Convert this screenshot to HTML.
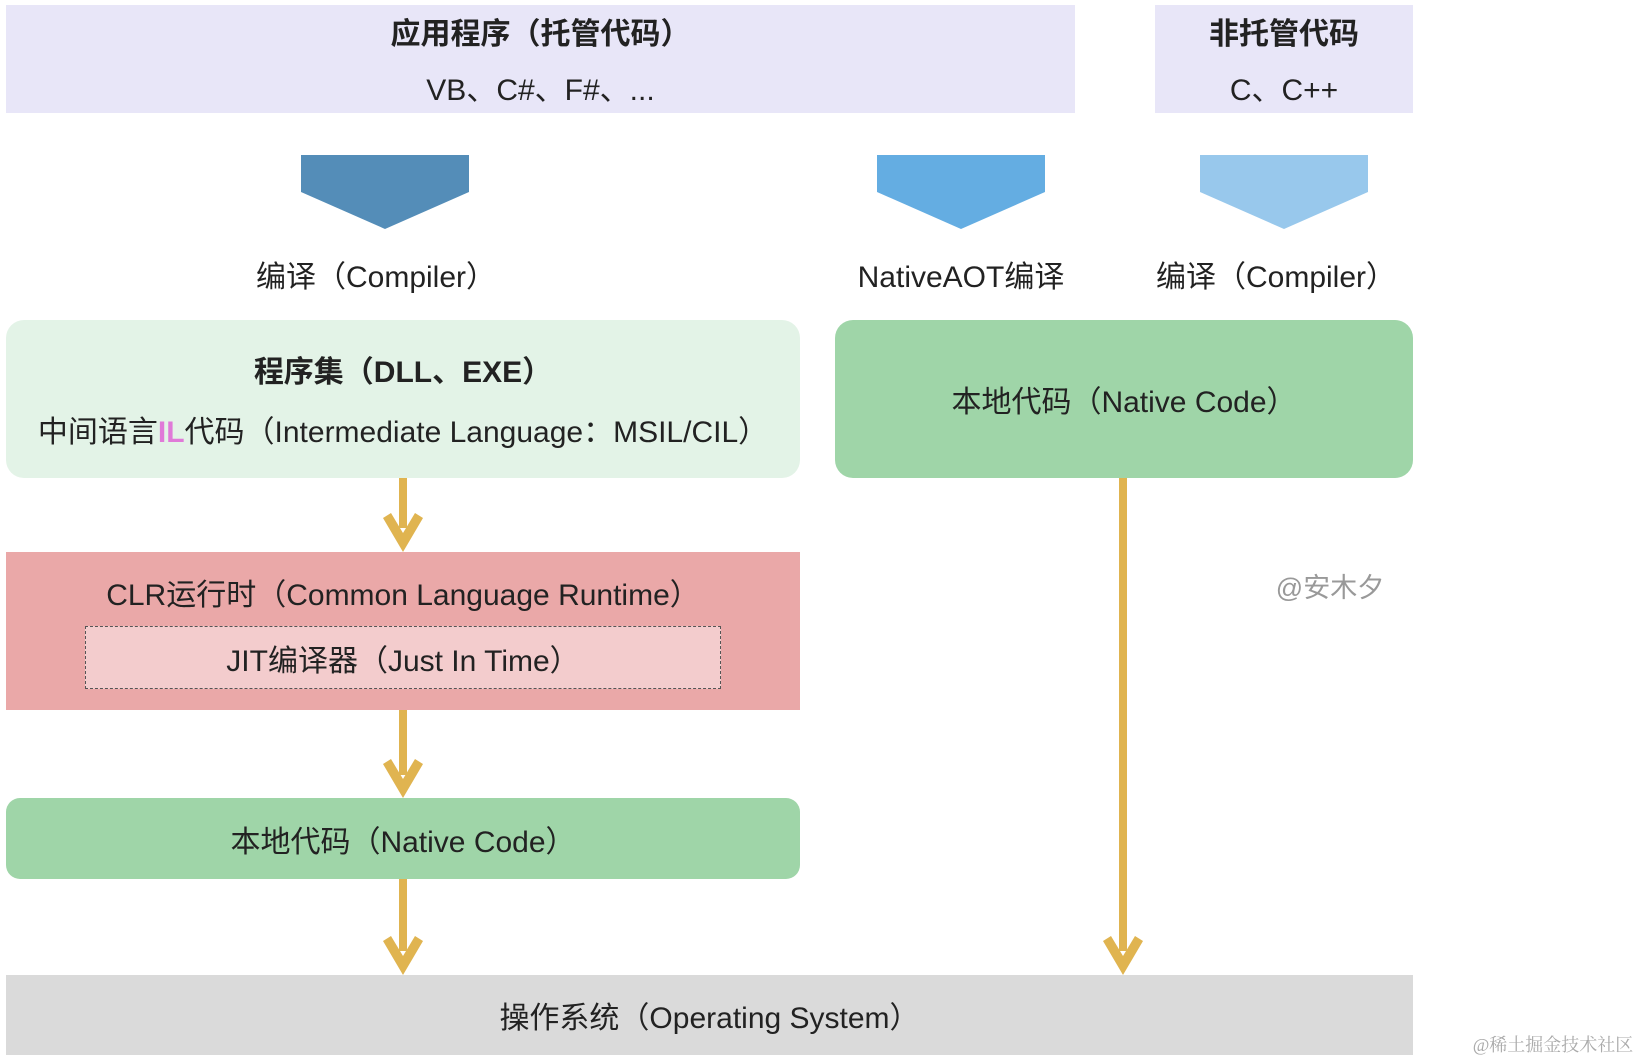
<!DOCTYPE html>
<html><head><meta charset="utf-8"><style>
body{margin:0;width:1640px;height:1060px;background:#fff;position:relative;overflow:hidden;font-family:"Liberation Sans","Noto Sans CJK SC",sans-serif;color:#222}
.b{position:absolute;display:flex;flex-direction:column;align-items:center;justify-content:center;text-align:center;font-size:30px;white-space:nowrap}
.t{font-weight:bold}
.l{position:absolute;font-size:30px;white-space:nowrap;transform:translateX(-50%)}
</style></head><body>
<div class="b" style="left:6px;top:5px;width:1069px;height:108px;background:#e8e6f8">
 <div class="t" style="margin-bottom:12px">应用程序（托管代码）</div><div>VB、C#、F#、...</div></div>
<div class="b" style="left:1155px;top:5px;width:258px;height:108px;background:#e8e6f8">
 <div class="t" style="margin-bottom:12px">非托管代码</div><div>C、C++</div></div>
<svg style="position:absolute;left:0;top:0" width="1640" height="1060">
 <polygon points="301,155 469,155 469,192 385,229 301,192" fill="#548db8"/>
 <polygon points="877,155 1045,155 1045,192 961,229 877,192" fill="#64ade2"/>
 <polygon points="1200,155 1368,155 1368,192 1284,229 1200,192" fill="#98c8ec"/>
 <g fill="#e0b450" stroke="none">
  <rect x="399" y="478" width="8" height="50"/>
  <polygon points="403,552 383,518 391,513 403,533 415,513 423,518"/>
  <rect x="399" y="710" width="8" height="65"/>
  <polygon points="403,798 383,764 391,759 403,779 415,759 423,764"/>
  <rect x="399" y="879" width="8" height="72"/>
  <polygon points="403,975 383,941 391,936 403,956 415,936 423,941"/>
  <rect x="1119" y="478" width="8" height="473"/>
  <polygon points="1123,975 1103,941 1111,936 1123,956 1135,936 1143,941"/>
 </g>
</svg>
<div class="l" style="left:376px;top:252px">编译（Compiler）</div>
<div class="l" style="left:961px;top:252px">NativeAOT编译</div>
<div class="l" style="left:1276px;top:252px">编译（Compiler）</div>
<div class="b" style="left:6px;top:320px;width:794px;height:158px;background:#e3f3e7;border-radius:18px">
 <div class="t" style="margin-bottom:16px">程序集（DLL、EXE）</div><div>中间语言<b style="color:#e07ad8">IL</b>代码（Intermediate Language：MSIL/CIL）</div></div>
<div class="b" style="left:835px;top:320px;width:578px;height:158px;background:#9fd5a8;border-radius:18px">本地代码（Native Code）</div>
<div class="b" style="left:6px;top:552px;width:794px;height:158px;background:#eaa8a8;justify-content:flex-start">
 <div style="margin-top:18px">CLR运行时（Common Language Runtime）</div></div>
<div class="b" style="left:85px;top:626px;width:634px;height:61px;background:#f3cccd;border:1.5px dashed #555">JIT编译器（Just In Time）</div>
<div class="b" style="left:6px;top:798px;width:794px;height:81px;background:#9fd5a8;border-radius:14px">本地代码（Native Code）</div>
<div class="b" style="left:6px;top:975px;width:1407px;height:80px;background:#dadada">操作系统（Operating System）</div>
<div class="l" style="left:1330px;top:566px;color:#999;font-size:27px">@安木夕</div>
<div class="l" style="left:1553px;top:1031px;color:#aaa;font-size:18px;font-family:'Liberation Serif','Noto Serif CJK SC',serif">@稀土掘金技术社区</div>
</body></html>
